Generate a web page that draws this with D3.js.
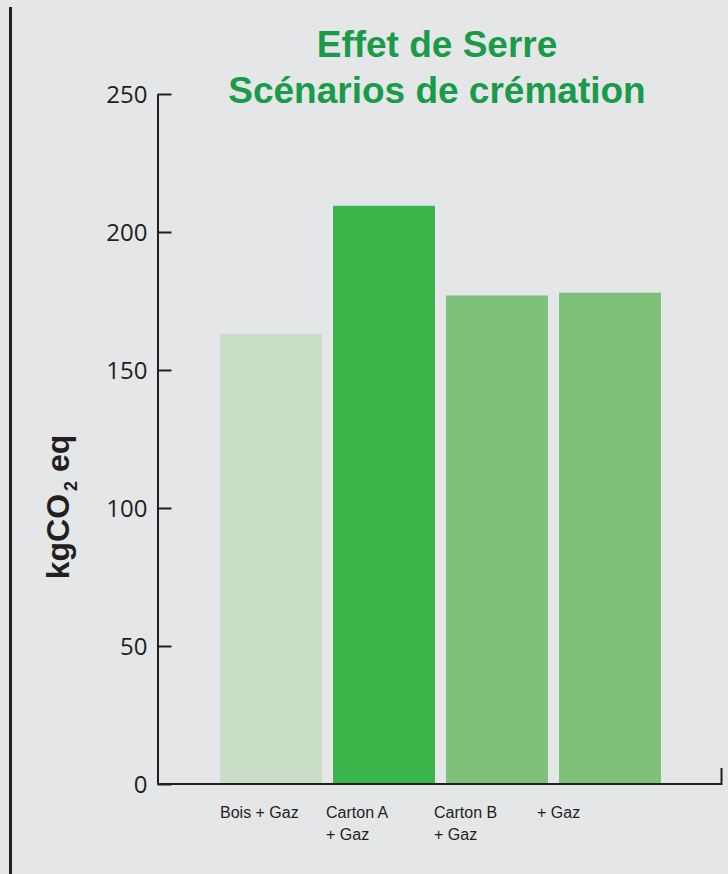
<!DOCTYPE html>
<html>
<head>
<meta charset="utf-8">
<script src="https://cdn.jsdelivr.net/npm/d3@7"></script>
<style>
  html, body { margin: 0; padding: 0; background: #e5e6e8; }
  svg { display: block; }
</style>
</head>
<body>
<svg id="chart" width="728" height="874"></svg>
<script>
// ---- data ----
const categories = ["Bois + Gaz", "Carton A\n+ Gaz", "Carton B\n+ Gaz", "+ Gaz"];
const values = [163, 209.5, 177, 178];
const yTicks = [0, 50, 100, 150, 200, 250];
const titleLines = ["Effet de Serre", "Scénarios de crémation"];

// ---- layout ----
const W = 728, H = 874;
const ink = "#231f20";
const barColors = ["#c8dcc6", "#3cb54b", "#7ec17a", "#7ec17a"];
const labelDx = [0, -7, -12, -22];

const svg = d3.select("#chart");
svg.append("rect").attr("width", W).attr("height", H).attr("fill", "#e5e6e8");

// left border line
svg.append("line").attr("x1", 10.5).attr("x2", 10.5).attr("y1", 7).attr("y2", H)
  .attr("stroke", ink).attr("stroke-width", 3);

const y = d3.scaleLinear().domain([0, 250]).range([784, 94]);
const x = d3.scaleBand().domain(categories).range([220, 661]).paddingInner(11 / 113).paddingOuter(0);

// bars
svg.selectAll("rect.bar").data(values).join("rect").attr("class", "bar")
  .attr("x", (d, i) => x(categories[i]))
  .attr("width", x.bandwidth())
  .attr("y", d => y(d))
  .attr("height", d => y(0) - y(d))
  .attr("fill", (d, i) => barColors[i]);

// y axis
const yAxis = d3.axisLeft(y).tickValues(yTicks).tickSizeInner(-14).tickSizeOuter(0).tickPadding(10);
const gy = svg.append("g").attr("transform", "translate(157.5,0)").call(yAxis);
gy.select(".domain").attr("stroke", ink).attr("stroke-width", 2);
gy.selectAll(".tick line").attr("stroke", ink).attr("stroke-width", 2);
gy.selectAll(".tick text").attr("fill", ink).attr("font-family", "'Open Sans', sans-serif")
  .attr("font-size", 24).attr("dy", "0.35em");

// x axis line with right end tick
svg.append("path")
  .attr("d", d3.line()([[157.5, y(0)], [721.5, y(0)], [721.5, 768]]))
  .attr("fill", "none").attr("stroke", ink).attr("stroke-width", 2);

// category labels
const lab = svg.append("g").attr("font-family", "'Liberation Sans', Arial, sans-serif")
  .attr("font-size", 16).attr("fill", ink);
categories.forEach((c, i) => {
  const t = lab.append("text").attr("x", x(c) + labelDx[i]).attr("y", 818);
  c.split("\n").forEach((line, j) => {
    t.append("tspan").attr("x", x(c) + labelDx[i]).attr("y", 818 + j * 22).text(line);
  });
});

// title
svg.append("g").attr("font-family", "'Liberation Sans', Arial, sans-serif")
  .attr("font-weight", "bold").attr("font-size", 37).attr("fill", "#199b48")
  .attr("text-anchor", "middle")
  .selectAll("text").data(titleLines).join("text")
  .attr("x", 437).attr("y", (d, i) => 57 + i * 46).text(d => d);

// y label
const yl = svg.append("text")
  .attr("transform", "translate(69,507) rotate(-90)")
  .attr("text-anchor", "middle")
  .attr("font-family", "'Liberation Sans', Arial, sans-serif")
  .attr("font-weight", "bold").attr("font-size", 32).attr("fill", ink);
yl.append("tspan").text("kgCO");
yl.append("tspan").attr("font-size", 18).attr("dx", 3).attr("dy", 8).text("2");
yl.append("tspan").attr("dy", -8).text(" eq");
</script>
</body>
</html>
